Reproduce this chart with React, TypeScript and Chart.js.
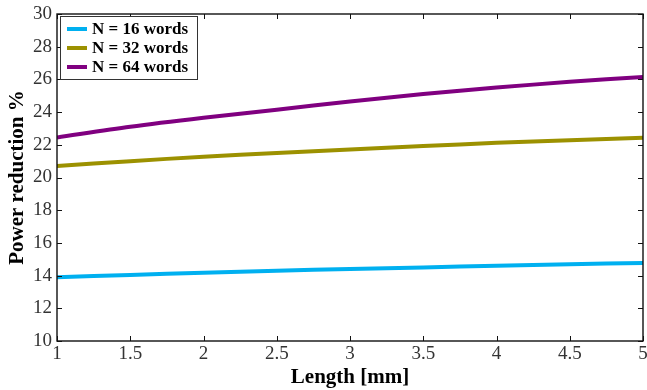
import React, { useEffect, useRef } from "react";
import { Chart, registerables } from "chart.js";

Chart.register(...registerables);

const lengthsMm = [1, 1.5, 2, 2.5, 3, 3.5, 4, 4.5, 5];
const n16Words = [13.9, 14.04, 14.18, 14.3, 14.4, 14.5, 14.6, 14.7, 14.77];
const n32Words = [20.7, 21.0, 21.27, 21.5, 21.72, 21.92, 22.12, 22.28, 22.43];
const n64Words = [22.45, 23.1, 23.65, 24.15, 24.65, 25.1, 25.5, 25.85, 26.15];
const seriesLabels = ["N = 16 words", "N = 32 words", "N = 64 words"];
const seriesColors = ["#00b0f0", "#9c9100", "#800080"];
const xTickValues = [1, 1.5, 2, 2.5, 3, 3.5, 4, 4.5, 5];
const yTickValues = [10, 12, 14, 16, 18, 20, 22, 24, 26, 28, 30];
const xTitle = "Length [mm]";
const yTitle = "Power reduction %";

const SERIF = "'Liberation Serif', 'Times New Roman', serif";

const framePlugin = {
  id: "frameAndLegend",
  afterDatasetsDraw(chart: any) {
    const { ctx, chartArea, scales } = chart;
    const { left, right, top, bottom } = chartArea;
    ctx.save();
    ctx.strokeStyle = "#111";
    ctx.lineWidth = 1.4;
    ctx.strokeRect(left, top, right - left, bottom - top);
    const tl = 5;
    ctx.beginPath();
    xTickValues.forEach((v) => {
      const px = Math.round(scales.x.getPixelForValue(v)) + 0.5;
      ctx.moveTo(px, bottom);
      ctx.lineTo(px, bottom - tl);
      ctx.moveTo(px, top);
      ctx.lineTo(px, top + tl);
    });
    yTickValues.forEach((v) => {
      const py = Math.round(scales.y.getPixelForValue(v)) + 0.5;
      ctx.moveTo(left, py);
      ctx.lineTo(left + tl, py);
      ctx.moveTo(right, py);
      ctx.lineTo(right - tl, py);
    });
    ctx.lineWidth = 1;
    ctx.stroke();

    // legend
    const bx = left + 3.5;
    const by = top + 2.5;
    const bw = 137;
    const bh = 63;
    ctx.fillStyle = "#fff";
    ctx.fillRect(bx, by, bw, bh);
    ctx.strokeStyle = "#333";
    ctx.lineWidth = 1;
    ctx.strokeRect(bx, by, bw, bh);
    chart.data.datasets.forEach((ds: any, i: number) => {
      const ry = top + 15 + i * 19;
      ctx.beginPath();
      ctx.strokeStyle = ds.borderColor;
      ctx.lineWidth = 4;
      ctx.moveTo(left + 10, ry);
      ctx.lineTo(left + 30, ry);
      ctx.stroke();
      ctx.fillStyle = "#000";
      ctx.font = `bold 17px ${SERIF}`;
      ctx.textBaseline = "middle";
      ctx.textAlign = "left";
      ctx.fillText(ds.label, left + 35, ry + 1);
    });
    ctx.restore();
  },
};

export default function App() {
  const ref = useRef<HTMLCanvasElement | null>(null);
  useEffect(() => {
    if (!ref.current) return;
    const values = [n16Words, n32Words, n64Words];
    const chart = new Chart(ref.current, {
      type: "line",
      data: {
        datasets: values.map((vals, i) => ({
          label: seriesLabels[i],
          data: lengthsMm.map((x, j) => ({ x, y: vals[j] })),
          borderColor: seriesColors[i],
          backgroundColor: seriesColors[i],
          borderWidth: 4,
          pointRadius: 0,
          tension: 0.3,
          fill: false,
        })),
      },
      options: {
        responsive: false,
        animation: false,
        layout: { padding: { top: 14, right: 4, left: 0, bottom: 0 } },
        plugins: { legend: { display: false }, tooltip: { enabled: false } },
        scales: {
          x: {
            type: "linear",
            min: 1,
            max: 5,
            afterBuildTicks: (s: any) => {
              s.ticks = xTickValues.map((v) => ({ value: v }));
            },
            afterFit: (s: any) => {
              s.height = 49;
              s.paddingLeft = 0;
              s.paddingRight = 0;
            },
            grid: { display: false, drawTicks: false },
            border: { display: false },
            ticks: {
              padding: 2,
              color: "#333",
              font: { family: SERIF, size: 19 },
              maxRotation: 0,
              autoSkip: false,
              callback: (v: any) => String(Number(v)),
            },
            title: {
              display: true,
              text: xTitle,
              color: "#000",
              font: { family: SERIF, size: 21, weight: "bold" },
              padding: { top: 0, bottom: 0 },
            },
          },
          y: {
            type: "linear",
            min: 10,
            max: 30,
            afterBuildTicks: (s: any) => {
              s.ticks = yTickValues.map((v) => ({ value: v }));
            },
            afterFit: (s: any) => {
              s.width = 57;
              s.paddingTop = 0;
              s.paddingBottom = 0;
            },
            grid: { display: false, drawTicks: false },
            border: { display: false },
            ticks: {
              padding: 5,
              color: "#333",
              font: { family: SERIF, size: 19 },
              autoSkip: false,
              callback: (v: any) => String(Number(v)),
            },
            title: {
              display: true,
              text: yTitle,
              color: "#000",
              font: { family: SERIF, size: 21, weight: "bold" },
              padding: { top: 5, bottom: 0 },
            },
          },
        },
      } as any,
      plugins: [framePlugin],
    });
    return () => chart.destroy();
  }, []);
  return (
    <div style={{ position: "absolute", left: 0, top: 0, width: 647, height: 390, background: "#fff" }}>
      <canvas ref={ref} width={647} height={390} style={{ display: "block" }} />
    </div>
  );
}
